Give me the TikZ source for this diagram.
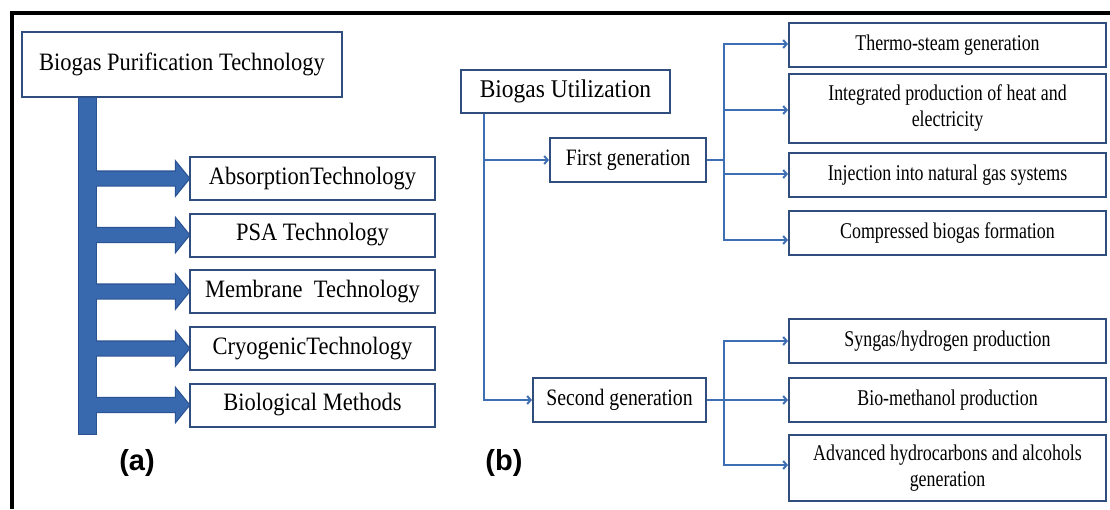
\documentclass[tikz,border=0pt]{standalone}
\usepackage{fontspec}
\setmainfont{Liberation Serif}
\newfontfamily\tagfont{Liberation Sans}
\usetikzlibrary{arrows.meta,calc}
\definecolor{boxline}{HTML}{2F4E7E}
\definecolor{barfill}{HTML}{3868AE}
\definecolor{barline}{HTML}{2A5293}
\definecolor{wire}{HTML}{3E6FB5}
\newcommand{\cond}[2]{\scalebox{#1}[1]{#2}}
\begin{document}
\begin{tikzpicture}[x=1pt,y=-1pt,
  box/.style={draw=boxline, line width=2pt, fill=white, inner sep=0pt, align=center},
  lefttext/.style={font=\fontsize{25}{28}\selectfont},
  gentext/.style={font=\fontsize{23.5}{27}\selectfont},
  righttext/.style={font=\fontsize{22.5}{26}\selectfont},
  leftbox/.style={box, lefttext, minimum width=245pt, minimum height=43pt},
  rightbox/.style={box, righttext, minimum width=317pt, minimum height=44pt},
  wire/.style={draw=wire, line width=1.6pt},
  wirearrow/.style={wire, -{Straight Barb[length=3.5pt,width=8pt,line width=2pt]}},
  panel/.style={font=\tagfont\bfseries\fontsize{29}{32}\selectfont},
  barshape/.style={draw=barline, line width=2.4pt},
  barbody/.style={fill=barfill}
]
\useasboundingbox (0,0) rectangle (1110,509);
\fill[white] (0,0) rectangle (1110,509);

% outer frame (top and left edges)
\draw[black, line width=4pt] (12,509) -- (12,13) -- (1110,13);

% ---------------- panel (a) ----------------
\node[box, lefttext, minimum width=320pt, minimum height=65pt] (bpt) at (182,64.5)
  {\cond{0.9}{Biogas Purification Technology}};

\node[leftbox] (ab)   at (312.5,178.5) {\cond{0.9}{AbsorptionTechnology}};
\node[leftbox] (psa)  at (312.5,235)   {\cond{0.9}{PSA Technology}};
\node[leftbox] (mem)  at (312.5,291.5) {\cond{0.9}{Membrane\ \ Technology}};
\node[leftbox] (cryo) at (312.5,348.5) {\cond{0.9}{CryogenicTechnology}};
\node[leftbox] (bio)  at (312.5,405)   {\cond{0.9}{Biological Methods}};

\coordinate (bartop) at ($(bpt.south west)+(58,0)$);
\coordinate (barbot) at ($(bartop)+(17,336)$);

% outlines first, then fills on top so the joints merge
\foreach \layer in {barshape,barbody}{
  \path[\layer] (bartop) rectangle (barbot);
  \foreach \n in {ab,psa,mem,cryo,bio}{
    \path[\layer] ($(barbot |- \n.west)+(-2,-7)$)
      -- ($(\n.west)+(-13,-7)$) -- ($(\n.west)+(-13,-16)$) -- (\n.west)
      -- ($(\n.west)+(-13,16)$) -- ($(\n.west)+(-13,7)$)
      -- ($(barbot |- \n.west)+(-2,7)$) -- cycle;
  }
}

\node[panel] (tagA) at (137,463) {(a)};

% ---------------- panel (b) ----------------
\node[box, font=\fontsize{25.5}{29}\selectfont, minimum width=209pt, minimum height=43pt] (bu)
  at (565.5,91.5) {\cond{0.92}{Biogas Utilization}};

\node[box, gentext, minimum width=156pt, minimum height=44pt] (fg) at (628,160)
  {\cond{0.84}{First generation}};
\node[box, gentext, minimum width=173pt, minimum height=44pt] (sg) at (619.5,400)
  {\cond{0.84}{Second generation}};

\node[rightbox] (th)  at (947.5,45)  {\cond{0.795}{Thermo-steam generation}};
\node[rightbox, minimum height=69pt] (ihe) at (947.5,108.5)
  {\cond{0.795}{\begin{tabular}{@{}c@{}}Integrated production of heat and\\electricity\end{tabular}}};
\node[rightbox] (inj) at (947.5,175) {\cond{0.795}{Injection into natural gas systems}};
\node[rightbox] (cbf) at (947.5,233) {\cond{0.795}{Compressed biogas formation}};

\node[rightbox] (syn) at (947.5,341) {\cond{0.795}{Syngas/hydrogen production}};
\node[rightbox] (bme) at (947.5,400) {\cond{0.795}{Bio-methanol production}};
\node[rightbox, minimum height=66pt] (adv) at (947.5,468)
  {\cond{0.795}{\begin{tabular}{@{}c@{}}Advanced hydrocarbons and alcohols\\generation\end{tabular}}};

% trunk from the root box to both generations
\coordinate (trunk) at ($(bu.south west)+(24,0)$);
\draw[wirearrow] (trunk) |- (sg.west);
\draw[wirearrow] (trunk |- fg.west) -- (fg.west);

% first generation fan-out
\coordinate (fork1) at ($(fg.east)+(17,0)$);
\draw[wire] (fg.east) -- (fork1);
\draw[wirearrow] (fork1) |- ([yshift=1pt]th.west);
\draw[wirearrow] (fork1) |- ([yshift=-1.5pt]ihe.west);
\draw[wirearrow] (fork1) |- ([yshift=1pt]inj.west);
\draw[wirearrow] (fork1) |- ([yshift=-7pt]cbf.west);

% second generation fan-out
\coordinate (fork2) at ($(sg.east)+(17,0)$);
\draw[wirearrow] (sg.east) -- (bme.west);
\draw[wirearrow] (fork2) |- (syn.west);
\draw[wirearrow] (fork2) |- ([yshift=3pt]adv.west);

\node[panel] (tagB) at (504,463) {(b)};
\end{tikzpicture}
\end{document}
